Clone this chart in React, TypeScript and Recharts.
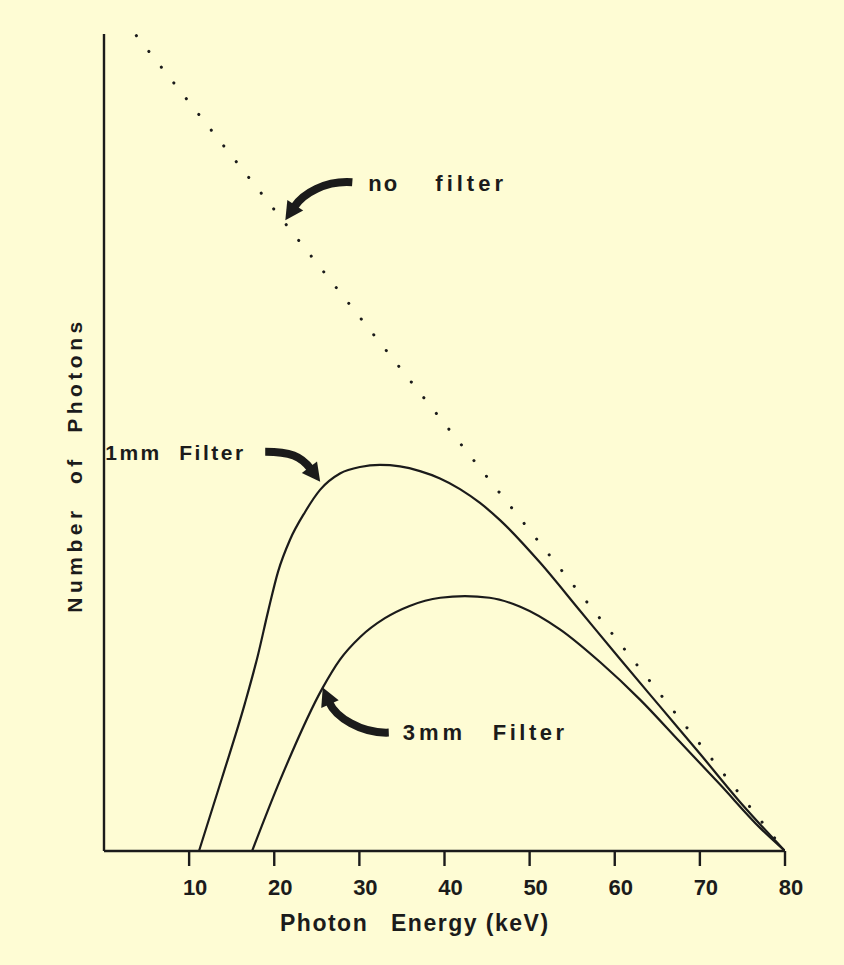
import React from 'react';
import { LineChart, Line, XAxis, YAxis, ReferenceDot, Label } from 'recharts';

// ---- data ----
const xTicks = [10, 20, 30, 40, 50, 60, 70, 80];

const noFilterEnergy = [3.8, 20, 40, 60, 80];
const noFilterCount = [99.8, 78.5, 52.3, 26.2, 0];

const mm1Energy = [11.16, 13.86, 16.56, 18.09, 19.27, 20.45, 21.85, 23.62, 25.38, 27.72, 30.07, 32.42, 34.77, 37.12, 39.47, 41.82, 44.17, 46.52, 51.22, 55.92, 60.62, 65.31, 70.01, 74.71, 80];
const mm1Count = [0, 8.93, 18.1, 24.0, 29.3, 34.2, 38.1, 41.5, 44.2, 46.2, 47.0, 47.25, 47.07, 46.5, 45.6, 44.3, 42.6, 40.5, 35.3, 29.4, 23.5, 17.7, 11.9, 6.0, 0];

const mm3Energy = [17.4, 20.7, 25.7, 27.7, 30.1, 33.0, 35.9, 39.5, 42.4, 45.3, 48.9, 53.6, 58.3, 63.0, 67.7, 72.4, 77.1, 80];
const mm3Count = [0, 8.7, 20.0, 23.4, 26.2, 28.5, 30.0, 31.0, 31.2, 31.0, 29.9, 27.1, 23.1, 18.5, 13.3, 8.1, 2.8, 0];

// annotation anchors (arrow tips, in data units)
const noFilterTip = { e: 21.3, n: 77.2 };
const mm1Tip = { e: 25.4, n: 45.2 };
const mm3Tip = { e: 25.7, n: 20.0 };

const toRows = (xs: number[], ys: number[]) => xs.map((e, i) => ({ e, n: ys[i] }));
const noFilterRows = toRows(noFilterEnergy, noFilterCount);
const mm1Rows = toRows(mm1Energy, mm1Count);
const mm3Rows = toRows(mm3Energy, mm3Count);

const INK = '#1b1b1b';
const BG = '#fefcd4';
const FONT = '"Liberation Sans", Arial, sans-serif';

type Pt = [number, number];

function Arrow({ tail, c1, dir, headLen = 18, headW = 19, k = 14 }: { tail: Pt; c1: Pt; dir: Pt; headLen?: number; headW?: number; k?: number }) {
  const len = Math.hypot(dir[0], dir[1]);
  const ux = dir[0] / len;
  const uy = dir[1] / len;
  const bx = -ux * headLen;
  const by = -uy * headLen;
  const c2x = bx - ux * k;
  const c2y = by - uy * k;
  const px = -uy;
  const py = ux;
  const h = headW / 2;
  const pts = `0,0 ${bx + px * h},${by + py * h} ${bx - px * h},${by - py * h}`;
  return (
    <g>
      <path d={`M${tail[0]},${tail[1]} C${c1[0]},${c1[1]} ${c2x},${c2y} ${bx + ux * 2},${by + uy * 2}`} fill="none" stroke={INK} strokeWidth={8} />
      <polygon points={pts} fill={INK} />
    </g>
  );
}

const textStyle = { fill: INK, fontFamily: FONT, fontWeight: 700 as const };

const NoFilterNote = (p: any) => (
  <g transform={`translate(${p.cx},${p.cy})`}>
    <Arrow tail={[67, -38]} c1={[40, -40]} dir={[-0.55, 0.83]} />
    <text x={83} y={-37} dominantBaseline="central" fontSize={22} letterSpacing={2} style={textStyle}>no</text>
    <text x={150} y={-37} dominantBaseline="central" fontSize={22} letterSpacing={4} style={textStyle}>filter</text>
  </g>
);

const Mm1Note = (p: any) => (
  <g transform={`translate(${p.cx},${p.cy})`}>
    <Arrow tail={[-55, -30]} c1={[-30, -30]} dir={[0.6, 0.8]} />
    <text x={-215} y={-29} dominantBaseline="central" fontSize={21} letterSpacing={2.5} style={textStyle}>1mm</text>
    <text x={-141} y={-29} dominantBaseline="central" fontSize={21} letterSpacing={2.5} style={textStyle}>Filter</text>
  </g>
);

const Mm3Note = (p: any) => (
  <g transform={`translate(${p.cx},${p.cy})`}>
    <Arrow tail={[66, 45]} c1={[38, 46]} dir={[-0.4, -0.92]} />
    <text x={80} y={45} dominantBaseline="central" fontSize={22} letterSpacing={4} style={textStyle}>3mm</text>
    <text x={170} y={45} dominantBaseline="central" fontSize={22} letterSpacing={3.5} style={textStyle}>Filter</text>
  </g>
);

const XTick = (p: any) => (
  <text x={p.x + 6} y={p.y + 21} textAnchor="middle" dominantBaseline="central" fontSize={22} style={textStyle}>
    {p.payload.value}
  </text>
);

const XTitle = (p: any) => {
  const vb = p.viewBox || { x: 104, y: 851 };
  return (
    <g>
      <text x={vb.x + 176} y={vb.y + 72} dominantBaseline="central" fontSize={23} letterSpacing={1.5} style={textStyle}>Photon</text>
      <text x={vb.x + 287} y={vb.y + 72} dominantBaseline="central" fontSize={23} letterSpacing={1.5} style={textStyle}>Energy (keV)</text>
    </g>
  );
};

const YTitle = (p: any) => {
  const vb = p.viewBox || { x: 0, y: 34, width: 104, height: 817 };
  const cx = vb.x + vb.width - 30;
  const cy = vb.y + 431;
  return (
    <text
      x={cx}
      y={cy}
      transform={`rotate(-90 ${cx} ${cy})`}
      textAnchor="middle"
      dominantBaseline="central"
      fontSize={21}
      letterSpacing={4.5}
      wordSpacing={12}
      style={textStyle}
    >
      Number of Photons
    </text>
  );
};

export default function App() {
  return (
    <div style={{ position: 'absolute', left: 0, top: 0, width: 844, height: 965, background: BG }}>
      <LineChart width={844} height={965} margin={{ top: 34, right: 59, bottom: 0, left: 0 }}>
        <XAxis
          dataKey="e"
          type="number"
          domain={[0, 80]}
          ticks={xTicks}
          height={114}
          tickSize={15}
          tickMargin={0}
          axisLine={{ stroke: INK, strokeWidth: 2.4 }}
          tickLine={{ stroke: INK, strokeWidth: 2.4 }}
          tick={<XTick />}
          allowDataOverflow
        >
          <Label content={<XTitle />} />
        </XAxis>
        <YAxis
          type="number"
          domain={[0, 100]}
          width={104}
          tick={false}
          tickLine={false}
          axisLine={{ stroke: INK, strokeWidth: 2.4 }}
        >
          <Label content={<YTitle />} />
        </YAxis>
        <Line
          data={noFilterRows}
          dataKey="n"
          type="linear"
          stroke={INK}
          strokeWidth={3}
          strokeDasharray="0.1 20"
          strokeLinecap="round"
          dot={false}
          activeDot={false}
          isAnimationActive={false}
        />
        <Line data={mm1Rows} dataKey="n" type="monotone" stroke={INK} strokeWidth={2.2} dot={false} activeDot={false} isAnimationActive={false} />
        <Line data={mm3Rows} dataKey="n" type="monotone" stroke={INK} strokeWidth={2.2} dot={false} activeDot={false} isAnimationActive={false} />
        <ReferenceDot x={noFilterTip.e} y={noFilterTip.n} r={0} ifOverflow="visible" shape={(p: any) => <NoFilterNote {...p} />} />
        <ReferenceDot x={mm1Tip.e} y={mm1Tip.n} r={0} ifOverflow="visible" shape={(p: any) => <Mm1Note {...p} />} />
        <ReferenceDot x={mm3Tip.e} y={mm3Tip.n} r={0} ifOverflow="visible" shape={(p: any) => <Mm3Note {...p} />} />
      </LineChart>
    </div>
  );
}
